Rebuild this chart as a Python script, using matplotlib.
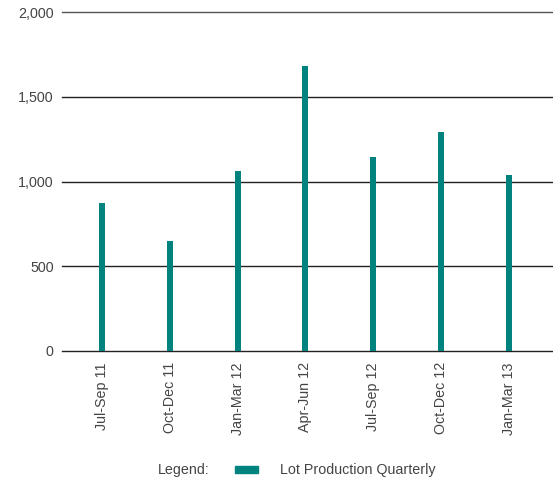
import numpy as np
import matplotlib
matplotlib.use('Agg')
import matplotlib.pyplot as plt
from matplotlib.patches import Rectangle

quarters = ["Jul-Sep 11", "Oct-Dec 11", "Jan-Mar 12", "Apr-Jun 12",
            "Jul-Sep 12", "Oct-Dec 12", "Jan-Mar 13"]
lot_production = [873, 649, 1062, 1681, 1145, 1292, 1038]
y_ticks = [0, 500, 1000, 1500, 2000]

TEAL = "#00827f"
TXT = "#444444"

plt.rcParams['font.family'] = ['Liberation Sans', 'DejaVu Sans']

W, H = 553, 486
fig = plt.figure(figsize=(W / 100, H / 100), dpi=100)
ax = fig.add_axes([62 / W, (H - 351) / H, (553 - 62) / W, 339 / H])

x = np.arange(len(quarters))
ax.bar(x, lot_production, width=0.088, color=TEAL, zorder=3)

ax.set_xlim(-0.59, 6.65)
ax.set_ylim(0, 2000)
ax.set_yticks(y_ticks)
ax.set_yticklabels([f"{v:,}" for v in y_ticks], color=TXT, fontsize=10.3)
ax.set_xticks(x)
ax.set_xticklabels(quarters, rotation=90, color=TXT, fontsize=10.3)
ax.tick_params(length=0, pad=8)
ax.tick_params(axis='y', pad=6)
for v in y_ticks:
    ax.axhline(v, color="#222222" if v < 2000 else "#555555", lw=1.0,
               zorder=1, clip_on=False)
for s in ax.spines.values():
    s.set_visible(False)

fig.text(158 / W, 1 - 470 / H, "Legend:", color=TXT, fontsize=10.3, va='center')
fig.patches.append(Rectangle((235 / W, 1 - 473 / H), 23 / W, 7 / H,
                             transform=fig.transFigure, color=TEAL))
fig.text(280 / W, 1 - 470 / H, "Lot Production Quarterly", color=TXT,
         fontsize=10.3, va='center')

fig.savefig("out.png", dpi=100)
